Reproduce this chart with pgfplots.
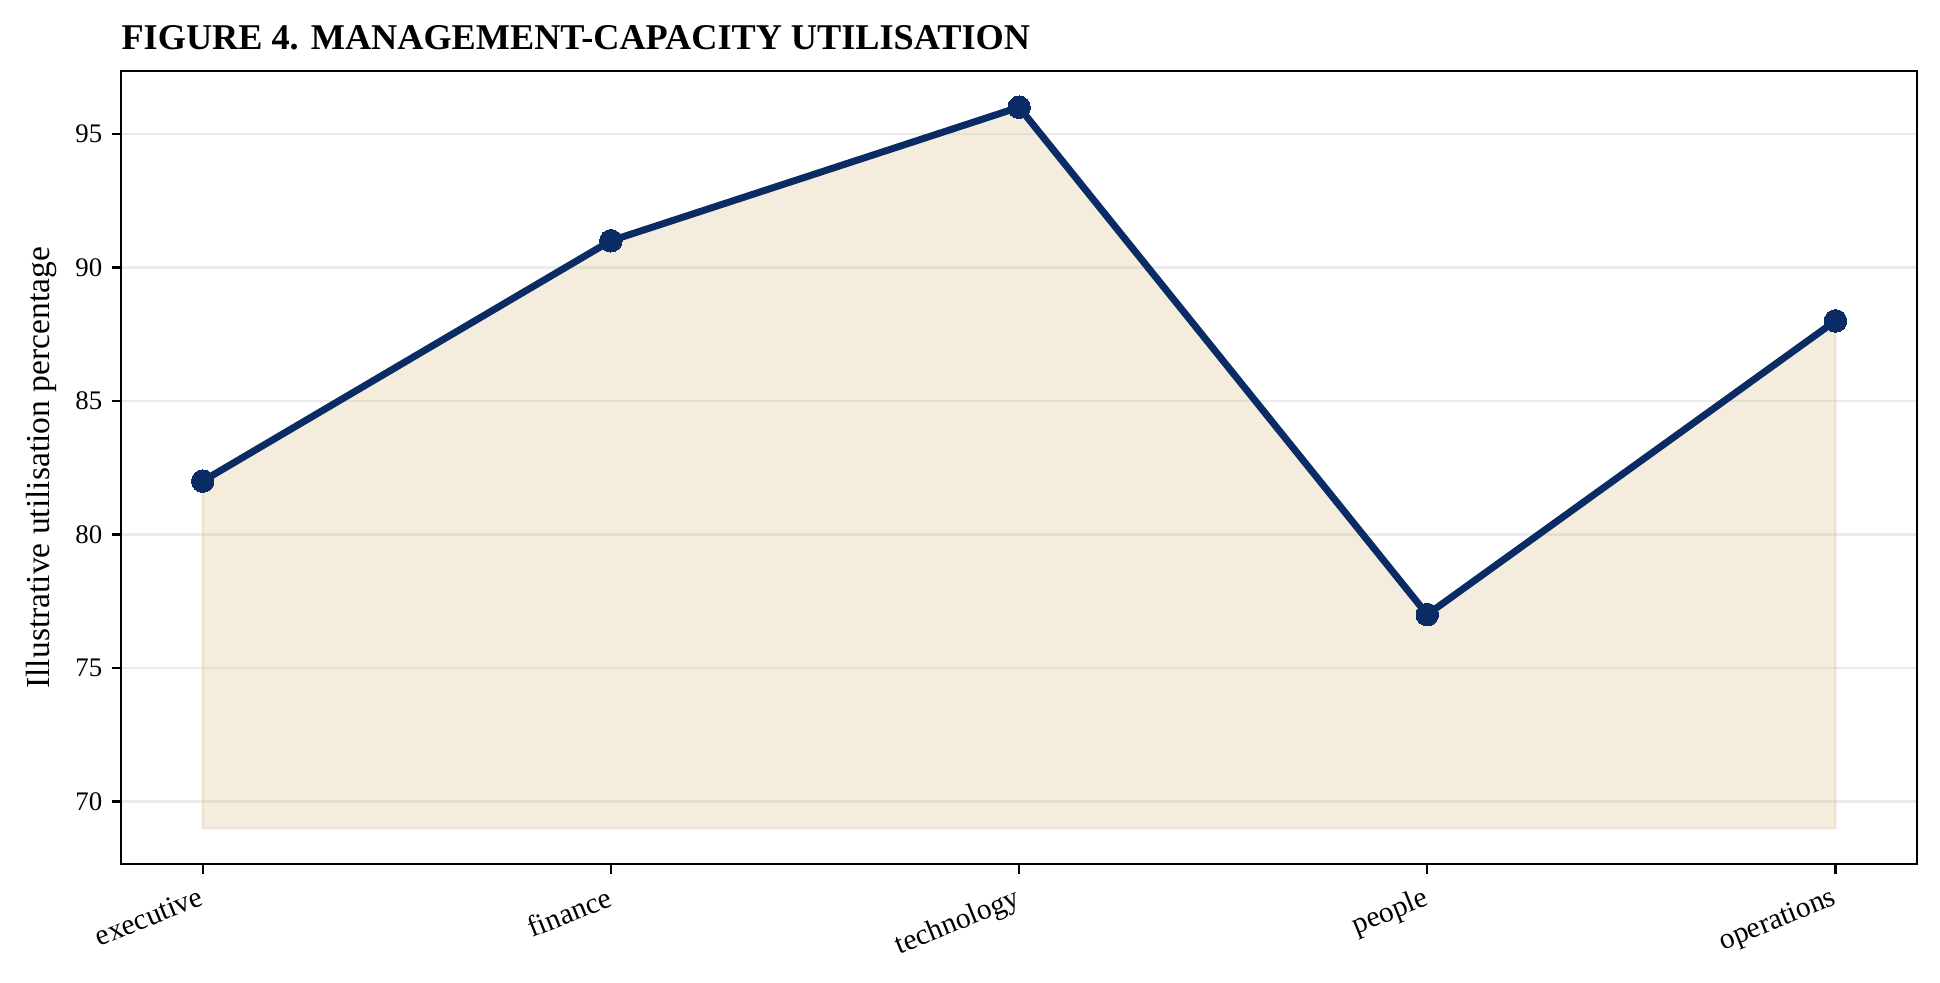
\documentclass[border=0pt]{standalone}
\usepackage{fontspec}
\setmainfont{Liberation Serif}
\usepackage{pgfplots}
\pgfplotsset{compat=1.18}

\definecolor{navy}{HTML}{0A2B64}
\definecolor{sandbase}{HTML}{D9C48F}
\definecolor{gridgray}{HTML}{EBEBEB}

\begin{document}
\begin{tikzpicture}
\useasboundingbox (-0.624in,-0.612in) rectangle (9.376in,4.455in);
\begin{axis}[
  at={(0,0)}, anchor=south west,
  scale only axis,
  width=9.258in, height=4.088in,
  xmin=-0.2, xmax=4.2,
  ymin=67.65, ymax=97.35,
  xtick={0,1,2,3,4},
  xticklabels={executive,finance,technology,people,operations},
  x tick label style={rotate=22, anchor=north east, font=\fontsize{11}{13}\selectfont},
  ytick={70,75,80,85,90,95},
  y tick label style={font=\fontsize{10}{12}\selectfont},
  /pgf/number format/assume math mode=true,
  tick align=outside,
  major tick length=3.5pt,
  tick style={black, line width=0.8pt},
  xtick pos=bottom, ytick pos=left,
  ymajorgrids=true,
  grid style={gridgray, line width=0.8pt},
  axis line style={black, line width=0.8pt},
  ylabel={Illustrative utilisation percentage},
  ylabel style={font=\fontsize{12.5}{14}\selectfont},
  clip=false,
]
% shaded area down to the 69 baseline
\addplot[fill=sandbase, fill opacity=0.3, draw=sandbase, draw opacity=0.35, line width=0.8pt]
  coordinates {(0,69) (0,82) (1,91) (2,96) (3,77) (4,88) (4,69)} -- cycle;
% utilisation line
\addplot[navy, line width=2.6pt, mark=*, mark size=4.2pt,
  mark options={fill=navy, draw=navy, line width=0pt}]
  coordinates {(0,82) (1,91) (2,96) (3,77) (4,88)};
\node[anchor=base west, inner sep=0pt, font=\fontsize{13.5}{15}\selectfont\bfseries]
  at ([yshift=0.11in]rel axis cs:0,1) {FIGURE 4. MANAGEMENT-CAPACITY UTILISATION};
\end{axis}
\end{tikzpicture}
\end{document}
